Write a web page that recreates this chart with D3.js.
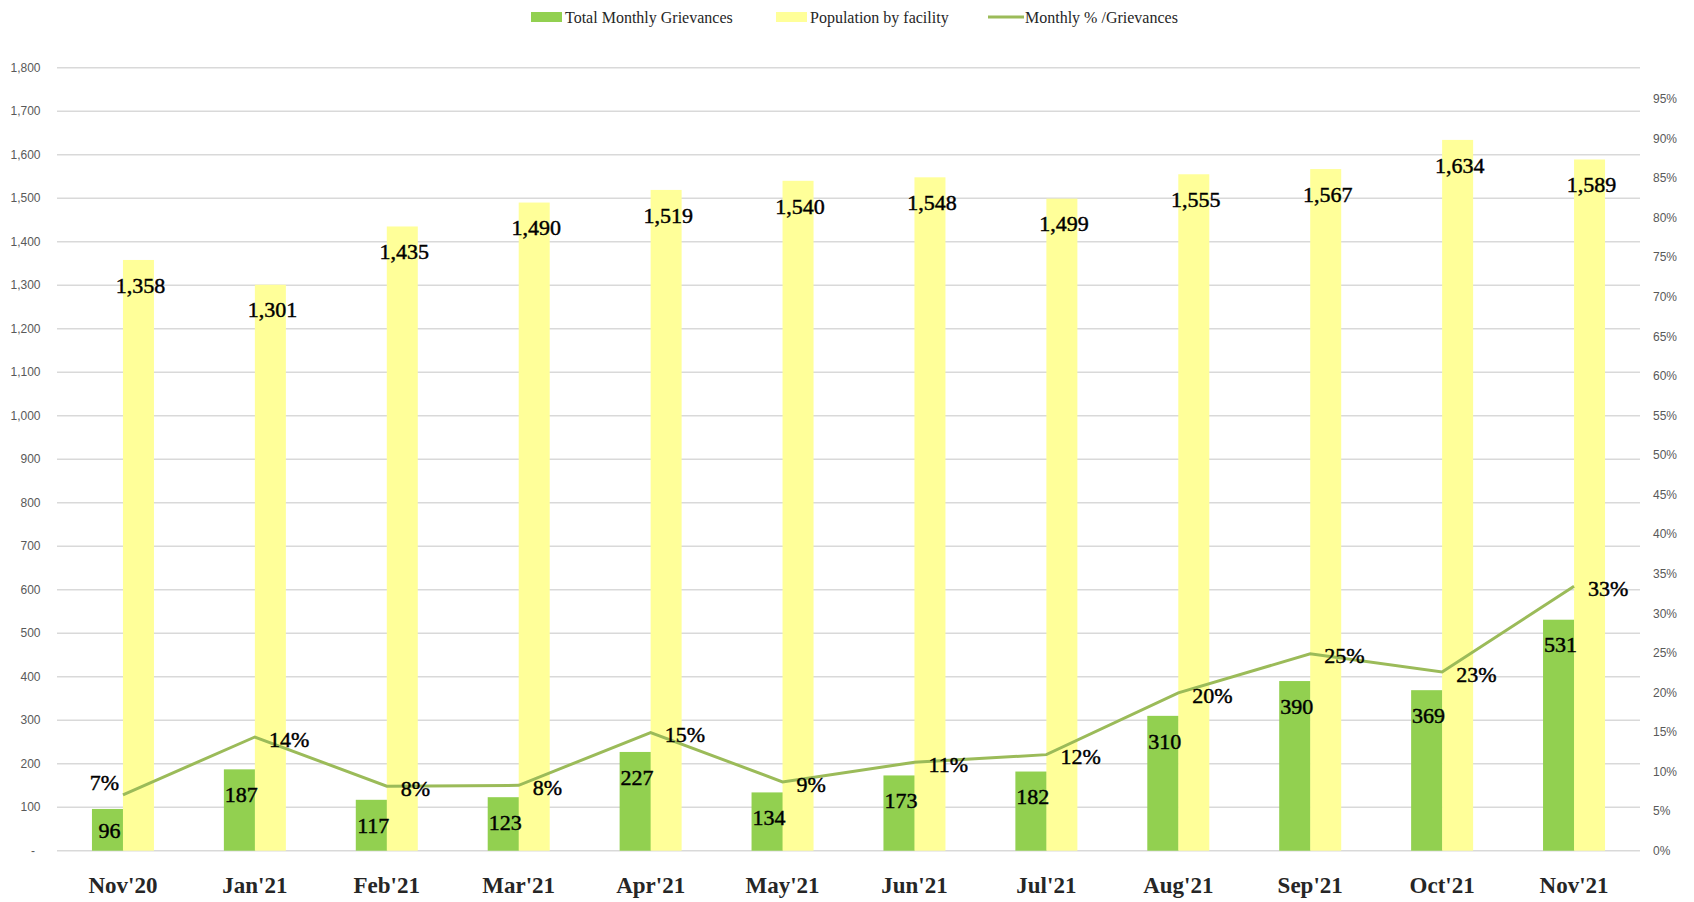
<!DOCTYPE html>
<html>
<head>
  <script src="https://d3js.org/d3.v7.min.js"></script>
  <style>
    body { margin: 0; background: #fff; }
    .grid line { stroke: #d9d9d9; stroke-width: 1.5px; }
    .tick-label { font-family: "Liberation Sans", Arial, sans-serif; font-size: 12px; fill: #595959; }
    .data-label { font-family: "Liberation Serif", "DejaVu Serif", serif; font-size: 22px; fill: #000; stroke: #000; stroke-width: 0.45px; }
    .cat-label { font-family: "Liberation Serif", "DejaVu Serif", serif; font-size: 23px; font-weight: bold; fill: #262626; }
    .legend-text { font-family: "Liberation Serif", "DejaVu Serif", serif; font-size: 16px; fill: #262626; }
  </style>
</head>
<body>
  <svg width="1694" height="902"></svg>

  <script>
    // data
    const months = ["Nov'20", "Jan'21", "Feb'21", "Mar'21", "Apr'21", "May'21",
                    "Jun'21", "Jul'21", "Aug'21", "Sep'21", "Oct'21", "Nov'21"];
    const grievances = [96, 187, 117, 123, 227, 134, 173, 182, 310, 390, 369, 531];
    const population = [1358, 1301, 1435, 1490, 1519, 1540, 1548, 1499, 1555, 1567, 1634, 1589];
    const monthlyPct = [0.0707, 0.1437, 0.0815, 0.0826, 0.1494, 0.0870, 0.1118, 0.1214, 0.1994, 0.2489, 0.2258, 0.3342];
    const leftTicks = d3.range(0, 1801, 100);
    const rightTicks = d3.range(0, 0.951, 0.05);

    const colors = { grievances: "#92d050", population: "#ffff99", line: "#9bbb59" };

    const svg = d3.select("svg");
    const plot = { left: 57, right: 1640, top: 67.7, bottom: 850.7 };

    const x = d3.scaleBand()
      .domain(months)
      .range([plot.left, plot.right])
      .paddingInner(0.53)
      .paddingOuter(0.265);

    const sub = d3.scaleBand()
      .domain(["g", "p"])
      .range([0, x.bandwidth()]);

    const yLeft = d3.scaleLinear().domain([0, 1800]).range([plot.bottom, plot.top]);
    const yRight = d3.scaleLinear().domain([0, 0.95]).range([plot.bottom, 99]);

    const fmtNum = d3.format(",");
    const fmtPct = d3.format(".0%");

    // gridlines
    svg.append("g").attr("class", "grid")
      .selectAll("line")
      .data(leftTicks)
      .enter().append("line")
      .attr("x1", plot.left).attr("x2", plot.right)
      .attr("y1", d => yLeft(d)).attr("y2", d => yLeft(d));

    // left axis labels
    svg.append("g").selectAll("text")
      .data(leftTicks)
      .enter().append("text")
      .attr("class", "tick-label")
      .attr("x", d => d === 0 ? 33 : 40.5)
      .attr("y", d => yLeft(d))
      .attr("dy", "0.35em")
      .attr("text-anchor", d => d === 0 ? "middle" : "end")
      .text(d => d === 0 ? "-" : fmtNum(d));

    // right axis labels
    svg.append("g").selectAll("text")
      .data(rightTicks)
      .enter().append("text")
      .attr("class", "tick-label")
      .attr("x", 1653)
      .attr("y", d => yRight(d))
      .attr("dy", "0.35em")
      .text(d => fmtPct(d));

    const rows = months.map((m, i) => ({
      month: m, g: grievances[i], p: population[i], pct: monthlyPct[i], i: i
    }));

    // bars
    const bars = svg.append("g");
    bars.selectAll(".bar-g")
      .data(rows)
      .enter().append("rect")
      .attr("class", "bar-g")
      .attr("x", d => x(d.month) + sub("g"))
      .attr("width", sub.bandwidth() + 0.5)
      .attr("y", d => yLeft(d.g))
      .attr("height", d => yLeft(0) - yLeft(d.g))
      .attr("fill", colors.grievances);

    bars.selectAll(".bar-p")
      .data(rows)
      .enter().append("rect")
      .attr("class", "bar-p")
      .attr("x", d => x(d.month) + sub("p"))
      .attr("width", sub.bandwidth())
      .attr("y", d => yLeft(d.p))
      .attr("height", d => yLeft(0) - yLeft(d.p))
      .attr("fill", colors.population);

    // line
    const cx = d => x(d.month) + x.bandwidth() / 2;
    const line = d3.line()
      .x(cx)
      .y(d => yRight(d.pct));

    svg.append("path")
      .datum(rows)
      .attr("d", line)
      .attr("fill", "none")
      .attr("stroke", colors.line)
      .attr("stroke-width", 3);

    // bar labels (inside end)
    function insideY(v) {
      const top = yLeft(v);
      return Math.min(top + 25, (top + yLeft(0)) / 2);
    }

    svg.append("g").selectAll("text")
      .data(rows)
      .enter().append("text")
      .attr("class", "data-label")
      .attr("x", d => x(d.month) + sub("g") + sub.bandwidth() / 2 + 2)
      .attr("y", d => insideY(d.g))
      .attr("dy", "0.35em")
      .attr("text-anchor", "middle")
      .text(d => fmtNum(d.g));

    svg.append("g").selectAll("text")
      .data(rows)
      .enter().append("text")
      .attr("class", "data-label")
      .attr("x", d => x(d.month) + sub("p") + sub.bandwidth() / 2 + 2)
      .attr("y", d => insideY(d.p))
      .attr("dy", "0.35em")
      .attr("text-anchor", "middle")
      .text(d => fmtNum(d.p));

    // line labels
    svg.append("g").selectAll("text")
      .data(rows)
      .enter().append("text")
      .attr("class", "data-label")
      .attr("x", d => d.i === 0 ? cx(d) - 4 : cx(d) + 14)
      .attr("y", d => d.i === 0 ? yRight(d.pct) - 12 : yRight(d.pct) + 2)
      .attr("dy", "0.35em")
      .attr("text-anchor", d => d.i === 0 ? "end" : "start")
      .text(d => fmtPct(d.pct));

    // category labels
    svg.append("g").selectAll("text")
      .data(months)
      .enter().append("text")
      .attr("class", "cat-label")
      .attr("x", d => x(d) + x.bandwidth() / 2)
      .attr("y", 893)
      .attr("text-anchor", "middle")
      .text(d => d);

    // legend
    const legend = svg.append("g");
    const legendItems = [
      { label: "Total Monthly Grievances", color: colors.grievances, type: "rect", x: 531 },
      { label: "Population by facility", color: colors.population, type: "rect", x: 776 },
      { label: "Monthly % /Grievances", color: colors.line, type: "line", x: 988 }
    ];
    const li = legend.selectAll("g")
      .data(legendItems)
      .enter().append("g")
      .attr("transform", d => `translate(${d.x},17)`);

    li.filter(d => d.type === "rect").append("rect")
      .attr("x", 0).attr("y", -5).attr("width", 31).attr("height", 10)
      .attr("fill", d => d.color);
    li.filter(d => d.type === "line").append("line")
      .attr("x1", 0).attr("x2", 36).attr("y1", 0).attr("y2", 0)
      .attr("stroke", d => d.color).attr("stroke-width", 3);

    li.append("text")
      .attr("class", "legend-text")
      .attr("x", d => d.type === "line" ? 37 : 34)
      .attr("dy", "0.35em")
      .text(d => d.label);
  </script>
</body>
</html>
